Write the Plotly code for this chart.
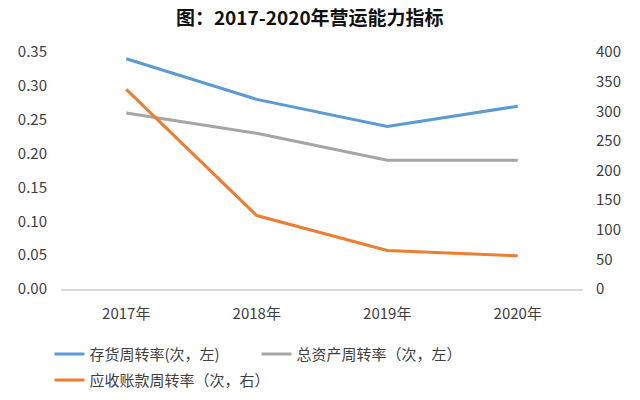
import plotly.graph_objects as go

years = ["2017年", "2018年", "2019年", "2020年"]
inventory_turnover = [0.34, 0.28, 0.24, 0.27]
asset_turnover = [0.26, 0.23, 0.19, 0.19]
receivable_turnover = [337, 124, 65, 56]

FONT = "Noto Sans CJK SC, Noto Sans, sans-serif"
TXT = "#404040"

fig = go.Figure()
fig.add_trace(go.Scatter(x=years, y=inventory_turnover, mode="lines",
                         name="存货周转率(次，左)",
                         line=dict(color="#5b9bd5", width=3)))
fig.add_trace(go.Scatter(x=years, y=asset_turnover, mode="lines",
                         name="总资产周转率（次，左）",
                         line=dict(color="#a5a5a5", width=3)))
fig.add_trace(go.Scatter(x=years, y=receivable_turnover, mode="lines",
                         name="应收账款周转率（次，右）", legend="legend2",
                         line=dict(color="#ed7d31", width=3), yaxis="y2"))

legend_common = dict(orientation="h", xanchor="left", yanchor="middle",
                     font=dict(family=FONT, size=15, color=TXT),
                     traceorder="normal", itemwidth=30,
                     bgcolor="rgba(0,0,0,0)")

fig.update_layout(
    width=640, height=400,
    margin=dict(l=61, r=57, t=52, b=111, autoexpand=False),
    paper_bgcolor="white", plot_bgcolor="white",
    font=dict(family=FONT, size=15, color=TXT),
    title=dict(text="<b>图：2017-2020年营运能力指标</b>", x=0.484, xanchor="center",
               y=0.953, yanchor="middle",
               font=dict(family=FONT, size=19, color="#111111")),
    xaxis=dict(showgrid=False, showline=True, linecolor="#d9d9d9", linewidth=1.5,
               range=[-0.5, 3.5], ticks="", tickfont=dict(size=15, color=TXT),
               zeroline=False, ticklabelstandoff=10),
    yaxis=dict(range=[0, 0.35], dtick=0.05, tickformat=".2f", showgrid=False,
               zeroline=False, ticks="", showline=False,
               tickfont=dict(size=15, color=TXT), ticklabelstandoff=13),
    yaxis2=dict(range=[0, 400], dtick=50, overlaying="y", side="right",
                showgrid=False, zeroline=False, ticks="", showline=False,
                tickfont=dict(size=15, color=TXT), ticklabelstandoff=12),
    showlegend=True,
    legend=dict(legend_common, x=-0.022, y=-0.275,
                entrywidth=162, entrywidthmode="pixels"),
    legend2=dict(legend_common, x=-0.022, y=-0.385),
)

fig.write_html("out.html")
